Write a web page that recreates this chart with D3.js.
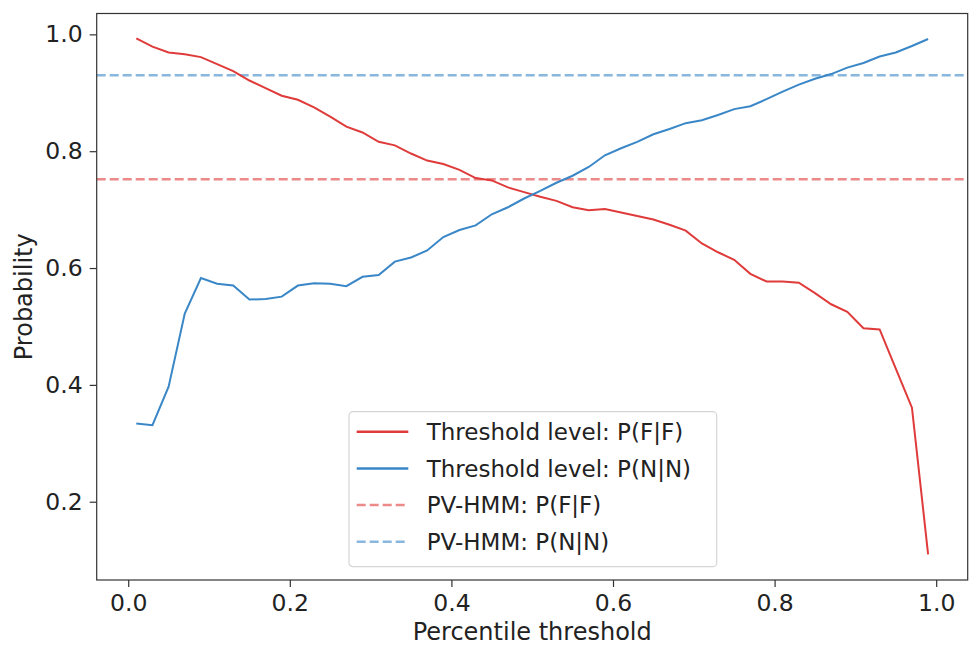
<!DOCTYPE html>
<html>
<head>
<meta charset="utf-8">
<script src="https://cdn.jsdelivr.net/npm/d3@7"></script>
<style>
  body { margin: 0; background: #fff; }
  text { font-family: "DejaVu Sans", sans-serif; fill: #222; }
</style>
</head>
<body>
<div id="chart-area"></div>
<script>
// percentile thresholds (x) and the two curves
var thresholds = [0.01,0.03,0.05,0.07,0.09,0.11,0.13,0.15,0.17,0.19,0.21,0.23,0.25,0.27,0.29,0.31,0.33,0.35,0.37,0.39,
  0.41,0.43,0.45,0.47,0.49,0.51,0.53,0.55,0.57,0.59,0.61,0.63,0.65,0.67,0.69,0.71,0.73,0.75,0.77,0.79,
  0.81,0.83,0.85,0.87,0.89,0.91,0.93,0.95,0.97,0.99];
var pFF = [0.993,0.979,0.969,0.966,0.961,0.949,0.937,0.921,0.908,0.895,0.888,0.875,0.859,0.842,0.832,0.816,0.810,0.796,0.784,0.778,
  0.768,0.754,0.750,0.738,0.730,0.722,0.715,0.704,0.699,0.701,0.695,0.689,0.683,0.674,0.664,0.642,0.627,0.614,0.590,0.577,
  0.577,0.575,0.557,0.538,0.525,0.497,0.495,0.428,0.361,0.110];
var pNN = [0.334,0.331,0.397,0.522,0.583,0.573,0.570,0.546,0.547,0.551,0.570,0.574,0.573,0.569,0.585,0.588,0.611,0.618,0.630,0.653,
  0.665,0.673,0.692,0.704,0.719,0.732,0.746,0.758,0.773,0.793,0.805,0.816,0.829,0.838,0.848,0.853,0.862,0.872,0.877,0.889,
  0.902,0.914,0.924,0.932,0.943,0.951,0.962,0.969,0.980,0.992];
var hmmFF = 0.752;
var hmmNN = 0.930;
var xTicks = [0.0,0.2,0.4,0.6,0.8,1.0];
var yTicks = [0.2,0.4,0.6,0.8,1.0];
var legendLabels = ["Threshold level: P(F|F)","Threshold level: P(N|N)","PV-HMM: P(F|F)","PV-HMM: P(N|N)"];

var red = "#e03b3b", blue = "#3a87c7";
var W = 972, H = 646;
var m = {left: 96.7, top: 13.5, right: 4.3, bottom: 66};
var w = W - m.left - m.right, h = H - m.top - m.bottom;

var svg = d3.select("#chart-area").append("svg").attr("width", W).attr("height", H);
var g = svg.append("g").attr("transform", "translate(" + m.left + "," + m.top + ")");

var x = d3.scaleLinear().domain([-0.039, 1.039]).range([0, w]);
var y = d3.scaleLinear().domain([0.066, 1.0357]).range([h, 0]);

// axes
var xAxis = g.append("g").attr("transform", "translate(0," + h + ")")
  .call(d3.axisBottom(x).tickValues(xTicks).tickFormat(d3.format(".1f")).tickSize(7).tickPadding(7));
var yAxis = g.append("g")
  .call(d3.axisLeft(y).tickValues(yTicks).tickFormat(d3.format(".1f")).tickSize(7).tickPadding(7));
[xAxis, yAxis].forEach((a) => {
  a.select(".domain").remove();
  a.selectAll("line").attr("stroke", "#333").attr("stroke-width", 1.2);
  a.selectAll("text").style("font-size", "23.5px").attr("fill", "#222");
});

// reference lines
g.append("line").attr("x1", 0).attr("x2", w).attr("y1", y(hmmNN)).attr("y2", y(hmmNN))
  .attr("stroke", blue).attr("stroke-opacity", 0.6).attr("stroke-width", 2.5).attr("stroke-dasharray", "9,4");
g.append("line").attr("x1", 0).attr("x2", w).attr("y1", y(hmmFF)).attr("y2", y(hmmFF))
  .attr("stroke", red).attr("stroke-opacity", 0.6).attr("stroke-width", 2.5).attr("stroke-dasharray", "9,4");

var line = (vals) => d3.line().x((d, i) => x(thresholds[i])).y((d) => y(d))(vals);
g.append("path").attr("d", line(pFF)).attr("fill", "none").attr("stroke", red).attr("stroke-width", 2);
g.append("path").attr("d", line(pNN)).attr("fill", "none").attr("stroke", blue).attr("stroke-width", 2);

// frame
g.append("rect").attr("width", w).attr("height", h).attr("fill", "none").attr("stroke", "#333").attr("stroke-width", 1.2);

// labels
svg.append("text").attr("x", m.left + w / 2).attr("y", 640).attr("text-anchor", "middle")
  .style("font-size", "24px").text("Percentile threshold");
svg.append("text").attr("transform", "translate(32," + (m.top + h / 2) + ") rotate(-90)")
  .attr("text-anchor", "middle").style("font-size", "24px").text("Probability");

// legend
var lg = svg.append("g").attr("transform", "translate(349,411.7)");
lg.append("rect").attr("width", 367.7).attr("height", 155).attr("rx", 4)
  .attr("fill", "#fff").attr("fill-opacity", 0.8).attr("stroke", "#d5d5d5").attr("stroke-width", 1.2);
var styles = [{c: red, o: 1, dash: null}, {c: blue, o: 1, dash: null}, {c: red, o: 0.6, dash: "9,4"}, {c: blue, o: 0.6, dash: "9,4"}];
legendLabels.forEach((lab, i) => {
  var yy = 20 + i * 36.7;
  lg.append("line").attr("x1", 7.7).attr("x2", 59.3).attr("y1", yy).attr("y2", yy)
    .attr("stroke", styles[i].c).attr("stroke-opacity", styles[i].o)
    .attr("stroke-width", 2.5).attr("stroke-dasharray", styles[i].dash);
  lg.append("text").attr("x", 77.7).attr("y", yy).attr("dy", "0.36em").style("font-size", "23px").text(lab);
});
</script>
</body>
</html>
